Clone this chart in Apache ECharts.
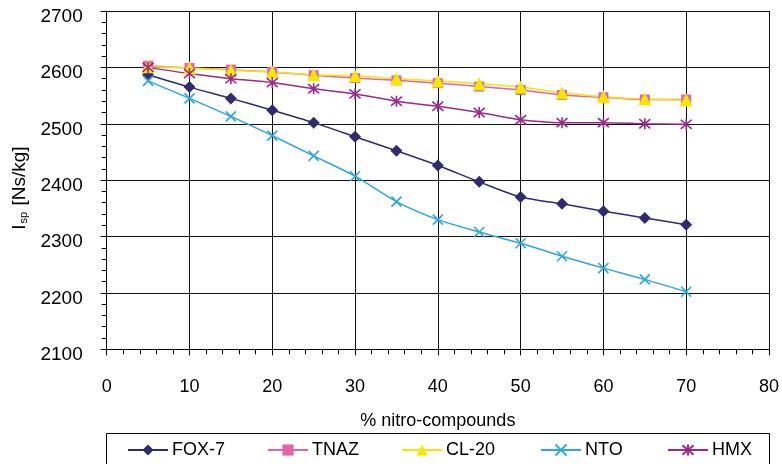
<!DOCTYPE html>
<html>
<head>
<meta charset="utf-8">
<script src="https://cdn.jsdelivr.net/npm/echarts@6/dist/echarts.min.js"></script>
<style>
html,body{margin:0;padding:0;background:#fff;}
#chart{width:782px;height:464px;}
</style>
</head>
<body>
<div id="chart"></div>
<script>
// Data
var percent = [5, 10, 15, 20, 25, 30, 35, 40, 45, 50, 55, 60, 65, 70];
var fox7 = [2587, 2565, 2545, 2524, 2502, 2477, 2452, 2426, 2397, 2370, 2358, 2345, 2333, 2321];
var tnaz = [2603, 2599, 2596, 2592, 2586, 2581, 2577, 2572, 2566, 2560, 2551, 2547, 2543, 2543];
var cl20 = [2601, 2599, 2595, 2592, 2587, 2585, 2580, 2576, 2571, 2565, 2555, 2548, 2544, 2542];
var nto  = [2576, 2545, 2513, 2479, 2443, 2407, 2362, 2330, 2308, 2288, 2265, 2244, 2224, 2202];
var hmx  = [2600, 2589, 2580, 2573, 2562, 2553, 2540, 2531, 2520, 2507, 2502, 2502, 2500, 2499];
var seriesNames = ['FOX-7', 'TNAZ', 'CL-20', 'NTO', 'HMX'];
var xAxisTitle = '% nitro-compounds';

function pairs(ys) { return percent.map(function (x, i) { return [x, ys[i]]; }); }

var FONT = '"Liberation Sans", Arial, sans-serif';
var colors = ['#302b6e', '#e064a8', '#f7e600', '#2ea6df', '#9a2a8a'];
var symbols = ['diamond', 'rect', 'triangle', 'path://M0,0L10,10M10,0L0,10', 'path://M0,0L10,10M10,0L0,10M5,-1L5,11'];
var sizes = [12, 10, 13, 10, 11];
var datasets = [fox7, tnaz, cl20, nto, hmx];

var series = seriesNames.map(function (name, i) {
  var isPath = i >= 3;
  return {
    name: name,
    type: 'line',
    smooth: 0.25,
    data: pairs(datasets[i]),
    symbol: symbols[i],
    symbolSize: sizes[i],
    showAllSymbol: true,
    color: colors[i],
    lineStyle: { color: colors[i], width: 1.5 },
    itemStyle: isPath ? { color: 'rgba(0,0,0,0)', borderColor: colors[i], borderWidth: 1.6 } : { color: colors[i], borderWidth: 0 },
    emphasis: { disabled: true },
    animation: false
  };
});

var legendLefts = [127, 267, 401, 540, 667];
var legends = seriesNames.map(function (name, i) {
  return {
    data: [name],
    left: legendLefts[i],
    top: 440,
    padding: 0,
    itemWidth: 40,
    itemHeight: 14,
    itemGap: 4,
    textStyle: { fontFamily: FONT, fontSize: 18, color: '#000', lineHeight: 20, padding: [0, 0, 0, -1] },
    selectedMode: false
  };
});

var chart = echarts.init(document.getElementById('chart'), null, { renderer: 'canvas' });
chart.setOption({
  backgroundColor: '#fff',
  animation: false,
  grid: { left: 106.7, right: 12.7, top: 11, bottom: 114.7, containLabel: false },
  legend: legends,
  xAxis: {
    type: 'value',
    min: 0, max: 80, interval: 10,
    name: xAxisTitle,
    nameLocation: 'middle',
    nameGap: 63,
    nameTextStyle: { fontFamily: FONT, fontSize: 18, color: '#000' },
    axisLine: { show: true, onZero: false, lineStyle: { color: '#000', width: 1 } },
    axisTick: { show: true, length: 6, lineStyle: { color: '#000' } },
    minorTick: { show: true, splitNumber: 5, length: 5, lineStyle: { color: '#000' } },
    axisLabel: { fontFamily: FONT, fontSize: 18, color: '#000', margin: 29 },
    splitLine: { show: true, lineStyle: { color: '#111', width: 1 } }
  },
  yAxis: {
    type: 'value',
    min: 2100, max: 2700, interval: 100,
    name: '{i|I}{s|sp}{t| [Ns/kg]}',
    nameLocation: 'middle',
    nameRotate: 90,
    nameGap: 74,
    nameTextStyle: {
      fontFamily: FONT, fontSize: 19, color: '#000', padding: [0, 16, 0, 0],
      rich: {
        i: { fontFamily: FONT, fontSize: 19, color: '#000', lineHeight: 22, verticalAlign: 'bottom' },
        s: { fontFamily: FONT, fontSize: 11, color: '#000', lineHeight: 22, verticalAlign: 'bottom', padding: [0, 1, 0, 1] },
        t: { fontFamily: FONT, fontSize: 19, color: '#000', lineHeight: 22, verticalAlign: 'bottom' }
      }
    },
    axisLine: { show: true, onZero: false, lineStyle: { color: '#000', width: 1 } },
    axisTick: { show: true, length: 6, lineStyle: { color: '#000' } },
    minorTick: { show: true, splitNumber: 5, length: 5, lineStyle: { color: '#000' } },
    axisLabel: {
      fontFamily: FONT, fontSize: 19, color: '#000', margin: 24,
      verticalAlign: 'top', lineHeight: 11,
      formatter: function (v) { return String(v); }
    },
    splitLine: { show: true, lineStyle: { color: '#111', width: 1 } }
  },
  graphic: [{
    type: 'rect',
    shape: { x: 106.5, y: 433.5, width: 663, height: 40 },
    style: { fill: 'none', stroke: '#000', lineWidth: 1 },
    silent: true,
    z: -1
  }],
  series: series
});
</script>
</body>
</html>
